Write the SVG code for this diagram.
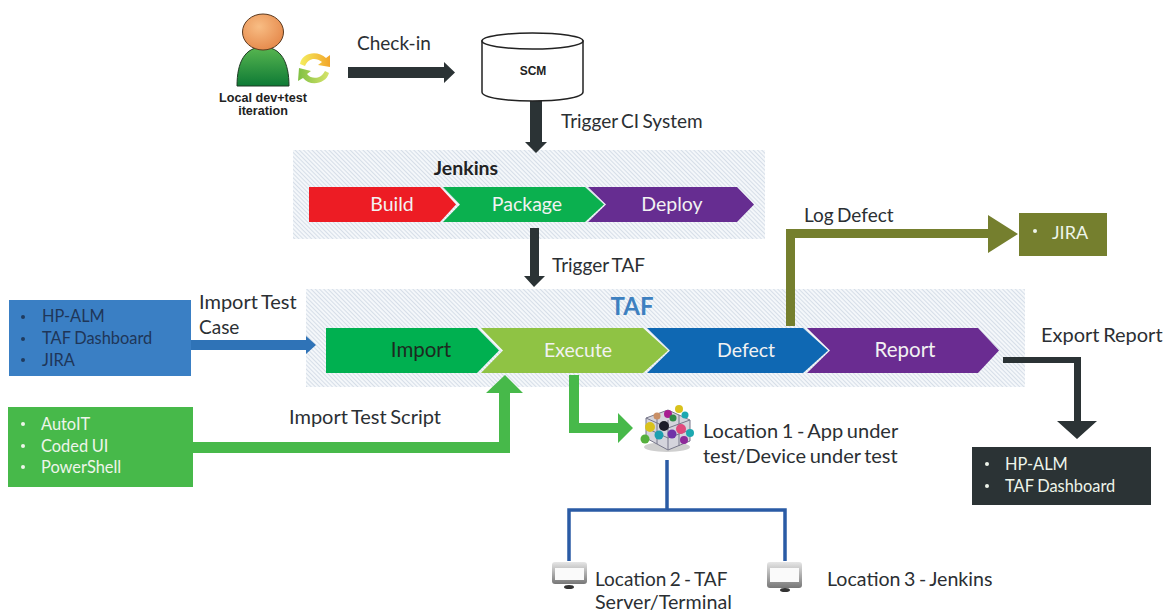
<svg xmlns="http://www.w3.org/2000/svg" width="1171" height="611" viewBox="0 0 1171 611">
<defs>
<style>
text{font-family:Lato,"Noto Sans","Liberation Sans",sans-serif;font-size:19px;fill:#2b2f33;word-spacing:-1.5px}
.l{font-size:20px}
.w{fill:#eef5ea}
.b{font-family:"Liberation Sans",Arial,sans-serif;font-weight:700;fill:#222;word-spacing:0}
.s{font-size:16.4px;word-spacing:-.5px}
.st{font-size:19.5px;text-anchor:middle;fill:#f2f2f2}
.d{fill:#2b3335}
.g{fill:#47b94a}
</style>
<pattern id="hatch" width="3" height="3" patternUnits="userSpaceOnUse" patternTransform="rotate(-45)">
<rect width="3" height="3" fill="#f4f7fa"/>
<rect width="1" height="3" fill="#d6dee8"/>
</pattern>
<linearGradient id="body" x1="0" y1="0" x2="0" y2="1"><stop offset="0" stop-color="#58b650"/><stop offset="1" stop-color="#0e7a35"/></linearGradient>
<radialGradient id="head" cx=".4" cy=".35" r=".7"><stop offset="0" stop-color="#f8bd84"/><stop offset="1" stop-color="#e5884a"/></radialGradient>
<linearGradient id="mon" x1="0" y1="0" x2="0" y2="1"><stop offset="0" stop-color="#e6e6e6"/><stop offset="1" stop-color="#777"/></linearGradient>
<linearGradient id="cy" x1="0" y1="0" x2="1" y2="0"><stop offset="0" stop-color="#f4ee60"/><stop offset="1" stop-color="#f2a52a"/></linearGradient>
<linearGradient id="cg" x1="0" y1="0" x2="1" y2="0"><stop offset="0" stop-color="#7fc043"/><stop offset="1" stop-color="#d6e36a"/></linearGradient>
<filter id="soft" x="-10%" y="-10%" width="120%" height="120%"><feGaussianBlur stdDeviation=".5"/></filter>
</defs>

<g id="taf-band"><rect x="306" y="289" width="719" height="98" fill="url(#hatch)"/></g>
<g id="jenkins-band"><rect x="293" y="150" width="472" height="89" fill="url(#hatch)"/></g>

<g id="connectors">
<path class="d" d="M348 67H444V62L455 72.5L444 83V78H348Z"/>
<path class="d" d="M530 100H542V142H547L536 153L525 142H530Z"/>
<path class="d" d="M530 228H539V276H545L534 287L524 276H530Z"/>
<path fill="#2f73b7" d="M190 340H306V336L316 345L306 354V350H190Z"/>
<path class="g" d="M193 442H499V393H486L505 375L523 393H510V453H193Z"/>
<path class="g" d="M569 375H579V423H618V413L633 428L618 443V433H569Z"/>
<path fill="#757f2e" d="M786 326V229H988V215L1018 234L988 253V238H795V326Z"/>
<path class="d" d="M1003 357H1081V421H1097L1077 439L1057 421H1074V363H1003Z"/>
<g fill="none" stroke="#2a5ba5" stroke-width="3.5">
<path d="M667 460V510"/>
<path d="M569 561V510H785V561"/>
</g>
</g>

<g id="user">
<path d="M237 86C237 62 245 47 263 47C281 47 289 62 289 86Z" fill="url(#body)" stroke="#1f3b24" stroke-width="1"/>
<ellipse cx="263" cy="32" rx="20.5" ry="18" fill="url(#head)" stroke="#5a3a20" stroke-width="1"/>
<path d="M300 64C302 52 318 50 326 58L330 55L330 67L318 65L322 62C316 57 308 58 305 66Z" fill="url(#cy)"/>
<path d="M329 73C326 84 310 87 303 78L298 81L299 68L311 71L307 74C312 80 321 79 325 71Z" fill="url(#cg)"/>
<text class="b" x="263" y="102" text-anchor="middle" style="font-size:12.6px">Local dev+test</text>
<text class="b" x="263" y="115" text-anchor="middle" style="font-size:12.6px">iteration</text>
</g>

<g id="scm">
<path d="M482 41V92C482 104 583 104 583 92V41Z" fill="#fff" stroke="#222" stroke-width="1.5"/>
<ellipse cx="532.5" cy="41" rx="50.5" ry="8" fill="#fff" stroke="#222" stroke-width="1.5"/>
<text class="b" x="533" y="75" text-anchor="middle" style="font-size:12px">SCM</text>
</g>

<g id="jenkins">
<text x="466" y="175" text-anchor="middle" style="font-weight:700;font-size:19.5px;fill:#222">Jenkins</text>
<path fill="#ed1c24" d="M309 187H440L456 204.5L440 222H309Z"/>
<path fill="#0bb04f" d="M443 187H585L604 204.5L585 222H443L460 204.5Z"/>
<path fill="#662d91" d="M588 187H737L754 204.5L737 222H588L606 204.5Z"/>
<text class="st" x="392" y="211">Build</text>
<text class="st" x="527" y="211">Package</text>
<text class="st" x="672" y="211">Deploy</text>
</g>

<g id="taf">
<text x="632" y="315" text-anchor="middle" style="font-weight:700;font-size:24px;fill:#3d80c0">TAF</text>
<path fill="#00b050" d="M326 328H477L499 350.5L477 373H326Z"/>
<path fill="#8fc344" d="M481 328H643L668 350.5L643 373H481L503 350.5Z"/>
<path fill="#0f68b3" d="M647 328H803L828 350.5L803 373H647L670 350.5Z"/>
<path fill="#6a2c91" d="M807 328H978L999 350.5L978 373H807L830 350.5Z"/>
<text class="st" x="421" y="357" style="fill:#1d2a20;font-size:20.5px">Import</text>
<text class="st" x="578" y="357">Execute</text>
<text class="st" x="746" y="357">Defect</text>
<text class="st" x="905" y="357" style="font-size:20.5px">Report</text>
</g>

<g id="src-cases">
<rect x="9" y="300" width="182" height="76" fill="#3a7fc4"/>
<circle cx="23" cy="317" r="2" fill="#1f3b5f"/><circle cx="23" cy="339" r="2" fill="#1f3b5f"/><circle cx="23" cy="360" r="2" fill="#1f3b5f"/>
<text class="s" x="42" y="322" style="fill:#1f3658">HP-ALM</text>
<text class="s" x="42" y="344" style="fill:#1f3658">TAF Dashboard</text>
<text class="s" x="42" y="366" style="fill:#1f3658">JIRA</text>
</g>

<g id="src-scripts">
<rect x="8" y="407" width="185" height="80" fill="#47b94a"/>
<circle cx="23" cy="424" r="2" fill="#eef5ea"/><circle cx="23" cy="446" r="2" fill="#eef5ea"/><circle cx="23" cy="467" r="2" fill="#eef5ea"/>
<text class="s w" x="41" y="430">AutoIT</text>
<text class="s w" x="41" y="452">Coded UI</text>
<text class="s w" x="41" y="473">PowerShell</text>
</g>

<g id="jira">
<rect x="1019" y="213" width="88" height="43" fill="#757f2e"/>
<circle cx="1035" cy="231" r="2" fill="#eef5ea"/>
<text class="w" x="1052" y="239" style="font-size:18px">JIRA</text>
</g>

<g id="export-target">
<rect x="972" y="447" width="179" height="58" fill="#2b3335"/>
<circle cx="987" cy="464" r="2" fill="#eef5ea"/><circle cx="987" cy="486" r="2" fill="#eef5ea"/>
<text class="s w" x="1005" y="470">HP-ALM</text>
<text class="s w" x="1005" y="492">TAF Dashboard</text>
</g>

<g id="location-1">
<g filter="url(#soft)">
<ellipse cx="667" cy="447" rx="23" ry="5" fill="#cfcfcf"/>
<path d="M646 418L668 410L690 420V441L668 450L646 438Z" fill="#d4d4dc" stroke="#77778a" stroke-width="1"/>
<path d="M668 420V450M646 418L668 428L690 420M657 414V444M679 415V446M646 428L668 438L690 430" fill="none" stroke="#77778a" stroke-width="1"/>
<circle cx="657" cy="416" r="3.5" fill="#c98f66"/><circle cx="668" cy="414" r="4" fill="#a81f92"/><circle cx="679" cy="409" r="4" fill="#d9c21f"/><circle cx="685" cy="415" r="3.5" fill="#1fa8b0"/>
<circle cx="650" cy="427" r="5" fill="#d9c21f"/><circle cx="664" cy="426" r="5" fill="#1e1e2a"/><circle cx="673" cy="418" r="3.5" fill="#2f8a46"/>
<circle cx="659" cy="435" r="4.5" fill="#1f9fb0"/><circle cx="672" cy="434" r="4.5" fill="#6f32a8"/><circle cx="681" cy="429" r="5" fill="#e0487d"/><circle cx="690" cy="433" r="4" fill="#1fa8b0"/>
<circle cx="645" cy="439" r="4.5" fill="#55b03d"/><circle cx="684" cy="440" r="4" fill="#8e2a9a"/>
</g>
<text class="l" x="703" y="438">Location 1 - App under</text>
<text class="l" x="703" y="463">test/Device under test</text>
</g>

<g id="location-2">
<rect x="552" y="562" width="35" height="22" rx="3" fill="url(#mon)"/><rect x="555" y="568" width="29" height="12" fill="#fafafa"/><ellipse cx="569" cy="587" rx="5" ry="2" fill="#333"/>
<text x="595" y="586">Location 2 - TAF</text>
<text x="595" y="609" style="font-size:19.7px">Server/Terminal</text>
</g>

<g id="location-3">
<rect x="767" y="562" width="35" height="26" rx="3" fill="url(#mon)"/><rect x="770" y="568" width="29" height="14" fill="#fafafa"/><ellipse cx="785" cy="590" rx="5" ry="2" fill="#333"/>
<text x="827" y="586" style="font-size:19.6px">Location 3 - Jenkins</text>
</g>

<g id="labels">
<text x="357" y="50">Check-in</text>
<text x="561" y="128">Trigger CI System</text>
<text x="552" y="272">Trigger TAF</text>
<text class="l" x="199" y="309">Import Test</text>
<text x="199" y="334">Case</text>
<text class="l" x="289" y="424">Import Test Script</text>
<text x="804" y="222">Log Defect</text>
<text class="l" x="1041" y="342">Export Report</text>
</g>
</svg>
